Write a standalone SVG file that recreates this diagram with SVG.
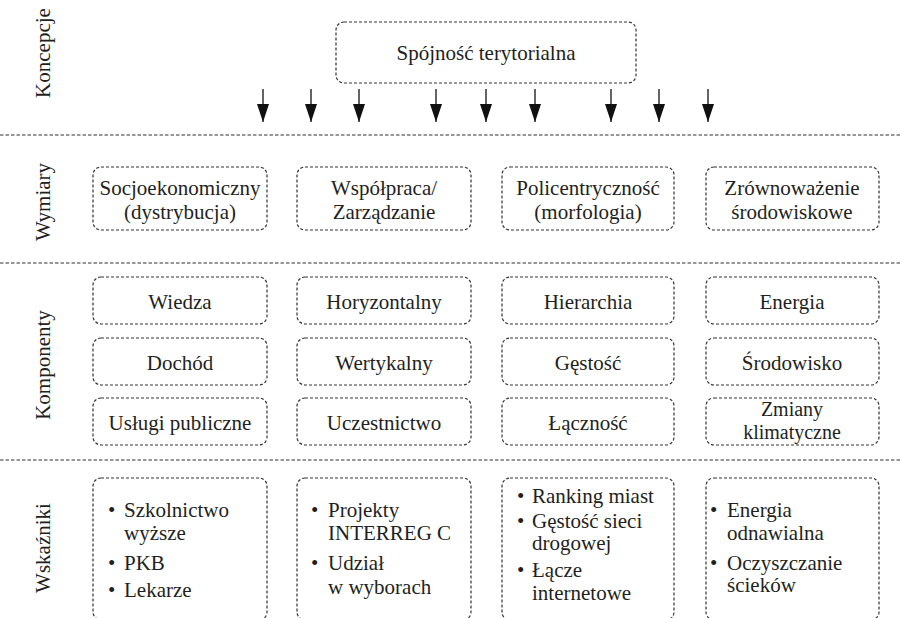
<svg xmlns="http://www.w3.org/2000/svg" width="902" height="618" viewBox="0 0 902 618" font-family="'Liberation Serif', 'DejaVu Serif', serif">
  <defs>
    <style>
      text { font-family: "Liberation Serif", "DejaVu Serif", serif; font-size: 21px; fill: #231f20; }
      .c { text-anchor: middle; }
      .box { fill: none; stroke: #333; stroke-width: 1.2; stroke-dasharray: 3 2; }
      .sep { fill: none; stroke: #333; stroke-width: 1.2; stroke-dasharray: 3.5 2; }
      .arrow { stroke: #111; stroke-width: 1.3; fill: none; }
    </style>
    <marker id="head" viewBox="0 0 18 12" refX="18" refY="6" markerWidth="18" markerHeight="12" markerUnits="userSpaceOnUse" orient="auto">
      <path d="M0,0 L18,6 L0,12 Z" fill="#111"/>
    </marker>
  </defs>

  <!-- row separators -->
  <g id="separators">
    <line class="sep" x1="0" y1="135" x2="902" y2="135"/>
    <line class="sep" x1="0" y1="263" x2="902" y2="263"/>
    <line class="sep" x1="0" y1="460" x2="902" y2="460"/>
  </g>

  <!-- row labels -->
  <g id="row-labels">
    <text class="c" transform="translate(50,53) rotate(-90)">Koncepcje</text>
    <text class="c" transform="translate(50,202) rotate(-90)">Wymiary</text>
    <text class="c" transform="translate(50,365) rotate(-90)">Komponenty</text>
    <text class="c" transform="translate(50,548) rotate(-90)">Wskaźniki</text>
  </g>

  <!-- concept -->
  <g id="spojnosc">
    <rect class="box" x="336" y="22" width="300" height="61" rx="8"/>
    <text class="c" x="486" y="60">Spójność terytorialna</text>
  </g>

  <!-- arrows from the concept down to the dimensions -->
  <g id="connectors">
    <line class="arrow" x1="263" y1="89" x2="263" y2="122" marker-end="url(#head)"/>
    <line class="arrow" x1="311" y1="89" x2="311" y2="122" marker-end="url(#head)"/>
    <line class="arrow" x1="359" y1="89" x2="359" y2="122" marker-end="url(#head)"/>
    <line class="arrow" x1="436" y1="89" x2="436" y2="122" marker-end="url(#head)"/>
    <line class="arrow" x1="486" y1="89" x2="486" y2="122" marker-end="url(#head)"/>
    <line class="arrow" x1="535" y1="89" x2="535" y2="122" marker-end="url(#head)"/>
    <line class="arrow" x1="611" y1="89" x2="611" y2="122" marker-end="url(#head)"/>
    <line class="arrow" x1="659" y1="89" x2="659" y2="122" marker-end="url(#head)"/>
    <line class="arrow" x1="708" y1="89" x2="708" y2="122" marker-end="url(#head)"/>
  </g>

  <!-- dimensions -->
  <g id="wymiar-socjoekonomiczny">
    <rect class="box" x="93" y="167" width="174" height="63" rx="8"/>
    <text class="c" x="180" y="195">Socjoekonomiczny</text>
    <text class="c" x="180" y="219">(dystrybucja)</text>
  </g>
  <g id="wymiar-wspolpraca">
    <rect class="box" x="297" y="167" width="174" height="63" rx="8"/>
    <text class="c" x="384" y="195">Współpraca/</text>
    <text class="c" x="384" y="219">Zarządzanie</text>
  </g>
  <g id="wymiar-policentrycznosc">
    <rect class="box" x="502" y="167" width="172" height="63" rx="8"/>
    <text class="c" x="588" y="195">Policentryczność</text>
    <text class="c" x="588" y="219">(morfologia)</text>
  </g>
  <g id="wymiar-zrownowazenie">
    <rect class="box" x="706" y="167" width="173" height="63" rx="8"/>
    <text class="c" x="792" y="195">Zrównoważenie</text>
    <text class="c" x="792" y="219">środowiskowe</text>
  </g>

  <!-- components -->
  <g id="komp-wiedza">
    <rect class="box" x="93" y="277" width="174" height="47" rx="8"/>
    <text class="c" x="180" y="309">Wiedza</text>
  </g>
  <g id="komp-dochod">
    <rect class="box" x="93" y="338" width="174" height="47" rx="8"/>
    <text class="c" x="180" y="370">Dochód</text>
  </g>
  <g id="komp-uslugi">
    <rect class="box" x="93" y="398" width="174" height="47" rx="8"/>
    <text class="c" x="180" y="430">Usługi publiczne</text>
  </g>
  <g id="komp-horyzontalny">
    <rect class="box" x="297" y="277" width="174" height="47" rx="8"/>
    <text class="c" x="384" y="309">Horyzontalny</text>
  </g>
  <g id="komp-wertykalny">
    <rect class="box" x="297" y="338" width="174" height="47" rx="8"/>
    <text class="c" x="384" y="370">Wertykalny</text>
  </g>
  <g id="komp-uczestnictwo">
    <rect class="box" x="297" y="398" width="174" height="47" rx="8"/>
    <text class="c" x="384" y="430">Uczestnictwo</text>
  </g>
  <g id="komp-hierarchia">
    <rect class="box" x="502" y="277" width="172" height="47" rx="8"/>
    <text class="c" x="588" y="309">Hierarchia</text>
  </g>
  <g id="komp-gestosc">
    <rect class="box" x="502" y="338" width="172" height="47" rx="8"/>
    <text class="c" x="588" y="370">Gęstość</text>
  </g>
  <g id="komp-lacznosc">
    <rect class="box" x="502" y="398" width="172" height="47" rx="8"/>
    <text class="c" x="588" y="430">Łączność</text>
  </g>
  <g id="komp-energia">
    <rect class="box" x="706" y="277" width="173" height="47" rx="8"/>
    <text class="c" x="792" y="309">Energia</text>
  </g>
  <g id="komp-srodowisko">
    <rect class="box" x="706" y="338" width="173" height="47" rx="8"/>
    <text class="c" x="792" y="370">Środowisko</text>
  </g>
  <g id="komp-klimat">
    <rect class="box" x="706" y="398" width="173" height="47" rx="8"/>
    <text class="c" x="792" y="416" style="font-size:20px">Zmiany</text>
    <text class="c" x="792" y="439" style="font-size:20px">klimatyczne</text>
  </g>

  <!-- indicators -->
  <g id="wsk-socjoekonomiczne">
    <rect class="box" x="93" y="478" width="174" height="142" rx="8"/>
    <text x="108" y="517">•</text><text x="124" y="517">Szkolnictwo</text>
    <text x="124" y="540">wyższe</text>
    <text x="108" y="570">•</text><text x="124" y="570">PKB</text>
    <text x="108" y="597">•</text><text x="124" y="597">Lekarze</text>
  </g>
  <g id="wsk-wspolpraca">
    <rect class="box" x="297" y="478" width="174" height="142" rx="8"/>
    <text x="311" y="517">•</text><text x="328" y="517">Projekty</text>
    <text x="328" y="540">INTERREG C</text>
    <text x="311" y="570">•</text><text x="328" y="570">Udział</text>
    <text x="328" y="594">w wyborach</text>
  </g>
  <g id="wsk-policentrycznosc">
    <rect class="box" x="502" y="478" width="172" height="142" rx="8"/>
    <text x="517" y="503">•</text><text x="532" y="503">Ranking miast</text>
    <text x="517" y="528">•</text><text x="532" y="528">Gęstość sieci</text>
    <text x="532" y="550">drogowej</text>
    <text x="517" y="577">•</text><text x="532" y="577">Łącze</text>
    <text x="532" y="600">internetowe</text>
  </g>
  <g id="wsk-srodowisko">
    <rect class="box" x="706" y="478" width="173" height="142" rx="8"/>
    <text x="710" y="517">•</text><text x="727" y="517">Energia</text>
    <text x="727" y="540">odnawialna</text>
    <text x="710" y="570">•</text><text x="727" y="570">Oczyszczanie</text>
    <text x="727" y="592">ścieków</text>
  </g>
</svg>
